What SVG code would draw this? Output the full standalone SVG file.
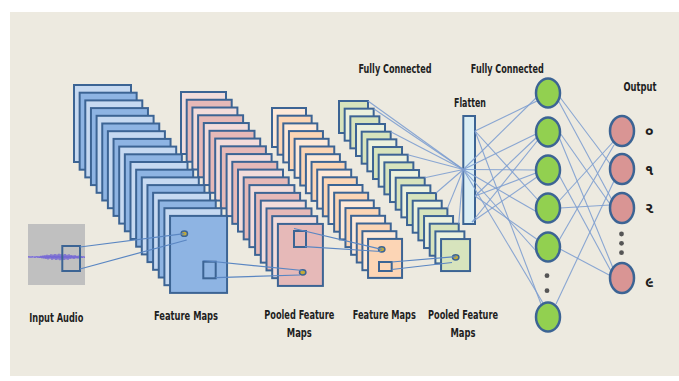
<svg xmlns="http://www.w3.org/2000/svg" width="679" height="381" viewBox="0 0 679 381">
  <defs>
    <style>
      .map { stroke: #3C6494; stroke-width: 2; }
      .b1 { fill: #C6D9F1; } .b2 { fill: #8EB4E3; }
      .p1 { fill: #F2DCDB; } .p2 { fill: #E6B9B8; }
      .o1 { fill: #FDE9D9; } .o2 { fill: #FCD5B5; }
      .g1 { fill: #EBF1DE; } .g2 { fill: #D7E4BD; }
      .win { fill: none; stroke: #3C6494; stroke-width: 2; }
      .dot { fill: #C2AA3A; stroke: #3C6494; stroke-width: 1.5; }
      .link { stroke: #5A86C2; stroke-width: 1.2; fill: none; }
      .fc { stroke: #7E9FD0; stroke-width: 1.1; fill: none; opacity: 0.9; }
      .hid { fill: #92D050; stroke: #3C6494; stroke-width: 2.5; }
      .out { fill: #D99594; stroke: #3C6494; stroke-width: 2.5; }
      .ell { fill: #555555; }
      .lbl { font-family: "DejaVu Sans Condensed", "DejaVu Sans", sans-serif; font-weight: bold; font-size: 11.5px; fill: #1E1E1E; text-anchor: middle; }
      .dig { font-family: "Noto Sans Gujarati", "Noto Sans", "DejaVu Sans", sans-serif; font-weight: bold; font-size: 15px; fill: #1E1E1E; }
    </style>
  </defs>

  <!-- backdrop -->
  <rect x="0" y="0" width="679" height="381" fill="#FFFFFF"/>
  <rect x="10" y="12" width="669" height="364" fill="#EDEAE0"/>

  <!-- second convolution stage: green pooled maps -->
  <g id="pooled-maps-2">
    <rect class="map g2" x="339" y="101" width="29" height="32"/>
    <rect class="map g1" x="344.67" y="108.67" width="29" height="32"/>
    <rect class="map g2" x="350.34" y="116.34" width="29" height="32"/>
    <rect class="map g1" x="356.01" y="124.01" width="29" height="32"/>
    <rect class="map g2" x="361.68" y="131.68" width="29" height="32"/>
    <rect class="map g1" x="367.35" y="139.35" width="29" height="32"/>
    <rect class="map g2" x="373.02" y="147.02" width="29" height="32"/>
    <rect class="map g1" x="378.69" y="154.69" width="29" height="32"/>
    <rect class="map g2" x="384.36" y="162.36" width="29" height="32"/>
    <rect class="map g1" x="390.03" y="170.03" width="29" height="32"/>
    <rect class="map g2" x="395.7" y="177.7" width="29" height="32"/>
    <rect class="map g1" x="401.37" y="185.37" width="29" height="32"/>
    <rect class="map g2" x="407.04" y="193.04" width="29" height="32"/>
    <rect class="map g1" x="412.71" y="200.71" width="29" height="32"/>
    <rect class="map g2" x="418.38" y="208.38" width="29" height="32"/>
    <rect class="map g1" x="424.05" y="216.05" width="29" height="32"/>
    <rect class="map g2" x="429.72" y="223.72" width="29" height="32"/>
    <rect class="map g1" x="435.39" y="231.39" width="29" height="32"/>
    <rect class="map g2" x="441.06" y="239.06" width="29" height="32"/>
  </g>

  <!-- second convolution stage: orange feature maps -->
  <g id="feature-maps-2">
    <rect class="map o1" x="272" y="108" width="34" height="39"/>
    <rect class="map o2" x="277.65" y="115.7" width="34" height="39"/>
    <rect class="map o1" x="283.3" y="123.4" width="34" height="39"/>
    <rect class="map o2" x="288.95" y="131.1" width="34" height="39"/>
    <rect class="map o1" x="294.6" y="138.8" width="34" height="39"/>
    <rect class="map o2" x="300.25" y="146.5" width="34" height="39"/>
    <rect class="map o1" x="305.9" y="154.2" width="34" height="39"/>
    <rect class="map o2" x="311.55" y="161.9" width="34" height="39"/>
    <rect class="map o1" x="317.2" y="169.6" width="34" height="39"/>
    <rect class="map o2" x="322.85" y="177.3" width="34" height="39"/>
    <rect class="map o1" x="328.5" y="185" width="34" height="39"/>
    <rect class="map o2" x="334.15" y="192.7" width="34" height="39"/>
    <rect class="map o1" x="339.8" y="200.4" width="34" height="39"/>
    <rect class="map o2" x="345.45" y="208.1" width="34" height="39"/>
    <rect class="map o1" x="351.1" y="215.8" width="34" height="39"/>
    <rect class="map o2" x="356.75" y="223.5" width="34" height="39"/>
    <rect class="map o1" x="362.4" y="231.2" width="34" height="39"/>
    <rect class="map o2" x="368.05" y="238.9" width="34" height="39"/>
  </g>

  <!-- first convolution stage: pink pooled maps -->
  <g id="pooled-maps-1">
    <rect class="map p1" x="181" y="92" width="45" height="62"/>
    <rect class="map p2" x="186.7" y="99.76" width="45" height="62"/>
    <rect class="map p1" x="192.4" y="107.52" width="45" height="62"/>
    <rect class="map p2" x="198.1" y="115.28" width="45" height="62"/>
    <rect class="map p1" x="203.8" y="123.04" width="45" height="62"/>
    <rect class="map p2" x="209.5" y="130.8" width="45" height="62"/>
    <rect class="map p1" x="215.2" y="138.56" width="45" height="62"/>
    <rect class="map p2" x="220.9" y="146.32" width="45" height="62"/>
    <rect class="map p1" x="226.6" y="154.08" width="45" height="62"/>
    <rect class="map p2" x="232.3" y="161.84" width="45" height="62"/>
    <rect class="map p1" x="238" y="169.6" width="45" height="62"/>
    <rect class="map p2" x="243.7" y="177.36" width="45" height="62"/>
    <rect class="map p1" x="249.4" y="185.12" width="45" height="62"/>
    <rect class="map p2" x="255.1" y="192.88" width="45" height="62"/>
    <rect class="map p1" x="260.8" y="200.64" width="45" height="62"/>
    <rect class="map p2" x="266.5" y="208.4" width="45" height="62"/>
    <rect class="map p1" x="272.2" y="216.16" width="45" height="62"/>
    <rect class="map p2" x="277.9" y="223.92" width="45" height="62"/>
    <rect class="win" x="294" y="231" width="12" height="16"/>
    <ellipse class="dot" cx="302.7" cy="272.3" rx="3.2" ry="2.6"/>
  </g>

  <!-- first convolution stage: blue feature maps -->
  <g id="feature-maps-1">
    <rect class="map b1" x="74" y="85" width="57" height="77"/>
    <rect class="map b2" x="79.65" y="92.7" width="57" height="77"/>
    <rect class="map b1" x="85.3" y="100.4" width="57" height="77"/>
    <rect class="map b2" x="90.95" y="108.1" width="57" height="77"/>
    <rect class="map b1" x="96.6" y="115.8" width="57" height="77"/>
    <rect class="map b2" x="102.25" y="123.5" width="57" height="77"/>
    <rect class="map b1" x="107.9" y="131.2" width="57" height="77"/>
    <rect class="map b2" x="113.55" y="138.9" width="57" height="77"/>
    <rect class="map b1" x="119.2" y="146.6" width="57" height="77"/>
    <rect class="map b2" x="124.85" y="154.3" width="57" height="77"/>
    <rect class="map b1" x="130.5" y="162" width="57" height="77"/>
    <rect class="map b2" x="136.15" y="169.7" width="57" height="77"/>
    <rect class="map b1" x="141.8" y="177.4" width="57" height="77"/>
    <rect class="map b2" x="147.45" y="185.1" width="57" height="77"/>
    <rect class="map b1" x="153.1" y="192.8" width="57" height="77"/>
    <rect class="map b2" x="158.75" y="200.5" width="57" height="77"/>
    <rect class="map b1" x="164.4" y="208.2" width="57" height="77"/>
    <rect class="map b2" x="170.05" y="215.9" width="57" height="77"/>
    <rect class="win" x="203.3" y="261.7" width="12.4" height="16.6"/>
    <ellipse class="dot" cx="184.3" cy="233.7" rx="3.2" ry="2.6"/>
  </g>

  <!-- small windows on the second stage -->
  <g id="feature-maps-2-window">
    <rect class="win" x="379" y="262" width="12.7" height="9"/>
    <ellipse class="dot" cx="381.7" cy="249.3" rx="3.2" ry="2.6"/>
  </g>
  <g id="pooled-maps-2-window">
    <ellipse class="dot" cx="455.7" cy="257.3" rx="3.2" ry="2.6"/>
  </g>

  <!-- input spectrum with waveform -->
  <g id="input-audio">
    <rect x="28" y="224" width="57" height="61" fill="#C0C0C0"/>
    <polyline fill="none" stroke="#8C80E6" stroke-width="2.2" opacity="0.5" points="28,257 34,257 40,257 46,257 52,257 58,257 64,257 70,257 76,257 85,257"/>
    <polyline fill="none" stroke="#6E5FD6" stroke-width="0.9" points="28,257 29,256.6 30,257.3 31,256.8 32,257.2 33,256.5 34,257.5 35,256.7 36,257.4 37,256.2 38,257.8 39,256.4 40,258 41,255.8 42,258.3 43,255.5 44,258.6 45,255.2 46,259 47,254.8 48,259.4 49,255 50,258.8 51,254.3 52,259.8 53,254.6 54,259.2 55,254 56,260 57,254.5 58,259.5 59,253.8 60,260.2 61,254.2 62,259.6 63,254.6 64,260 65,254 66,259.4 67,254.8 68,259.8 69,254.4 70,259 71,255 72,258.6 73,255.4 74,259 75,255.2 76,258.4 77,255.8 78,258.6 79,255.6 80,258.2 81,256 82,258 83,256.4 84,257.6 85,256.8"/>
    <rect class="win" x="62.3" y="246" width="17.7" height="25"/>
  </g>

  <!-- flatten vector -->
  <g id="flatten">
    <rect x="463.3" y="116" width="11.7" height="108" fill="#DBEEF4" stroke="#3C6494" stroke-width="2"/>
  </g>

  <!-- connectors -->
  <g id="connectors">
    <!-- receptive fields between stages -->
    <line class="link" x1="80" y1="247" x2="184.3" y2="233.7"/>
    <line class="link" x1="80" y1="269" x2="186.7" y2="240"/>
    <line class="link" x1="203.3" y1="260.5" x2="302.7" y2="270.5"/>
    <line class="link" x1="215.7" y1="277.7" x2="300" y2="275"/>
    <line class="link" x1="294" y1="228.5" x2="381.7" y2="249.3"/>
    <line class="link" x1="305" y1="246.7" x2="381" y2="251.5"/>
    <line class="link" x1="391.7" y1="262" x2="455.7" y2="256.7"/>
    <line class="link" x1="391.7" y1="269.5" x2="452" y2="262.5"/>

    <!-- pooled maps into the flatten vector -->
    <line class="fc" x1="368" y1="101" x2="463.3" y2="169.5"/>
    <line class="fc" x1="373.7" y1="108.7" x2="463.3" y2="169.5"/>
    <line class="fc" x1="390.7" y1="131.7" x2="463.3" y2="169.5"/>
    <line class="fc" x1="407.7" y1="154.7" x2="463.3" y2="169.5"/>
    <line class="fc" x1="424.7" y1="177.7" x2="463.3" y2="169.5"/>
    <line class="fc" x1="436" y1="193" x2="463.3" y2="169.5"/>
    <line class="fc" x1="447.4" y1="208.4" x2="463.3" y2="169.5"/>
    <line class="fc" x1="458.7" y1="223.7" x2="463.3" y2="169.5"/>

    <!-- flatten vector into the hidden layer -->
    <line class="fc" x1="475" y1="131" x2="537" y2="101"/>
    <line class="fc" x1="475" y1="131" x2="538" y2="200"/>
    <line class="fc" x1="475" y1="131" x2="541" y2="304"/>
    <line class="fc" x1="463.3" y1="169.5" x2="537" y2="97"/>
    <line class="fc" x1="463.3" y1="169.5" x2="536" y2="134"/>
    <line class="fc" x1="463.3" y1="169.5" x2="536" y2="170"/>
    <line class="fc" x1="463.3" y1="169.5" x2="537" y2="212"/>
    <line class="fc" x1="463.3" y1="169.5" x2="537" y2="252"/>
    <line class="fc" x1="463.3" y1="169.5" x2="543" y2="303"/>
    <line class="fc" x1="475" y1="196" x2="537" y2="137"/>
    <line class="fc" x1="475" y1="196" x2="536" y2="173"/>
    <line class="fc" x1="475" y1="196" x2="538" y2="240"/>
    <line class="fc" x1="472" y1="222" x2="538" y2="140"/>
    <line class="fc" x1="472" y1="222" x2="537" y2="177"/>

    <!-- hidden layer into the outputs -->
    <line class="fc" x1="559" y1="96" x2="611" y2="165"/>
    <line class="fc" x1="558" y1="100" x2="612" y2="200"/>
    <line class="fc" x1="560" y1="133" x2="610" y2="204"/>
    <line class="fc" x1="559" y1="137" x2="613" y2="268"/>
    <line class="fc" x1="559" y1="175" x2="612" y2="273"/>
    <line class="fc" x1="560" y1="208" x2="610" y2="205"/>
    <line class="fc" x1="558" y1="202" x2="614" y2="141"/>
    <line class="fc" x1="558" y1="242" x2="614" y2="145"/>
    <line class="fc" x1="560" y1="249" x2="611" y2="276"/>
    <line class="fc" x1="556" y1="304" x2="614" y2="181"/>
  </g>

  <!-- hidden fully connected layer -->
  <g id="hidden-layer">
    <ellipse class="hid" cx="548" cy="93" rx="12" ry="14.5"/>
    <ellipse class="hid" cx="548" cy="132" rx="12" ry="14.5"/>
    <ellipse class="hid" cx="548" cy="170" rx="12" ry="14.5"/>
    <ellipse class="hid" cx="548" cy="208" rx="12" ry="14.5"/>
    <ellipse class="hid" cx="548" cy="247" rx="12" ry="14.5"/>
    <ellipse class="hid" cx="548" cy="317" rx="12" ry="14.5"/>
    <circle class="ell" cx="547" cy="275.7" r="2.4"/>
    <circle class="ell" cx="547" cy="290.7" r="2.4"/>
  </g>

  <!-- output layer -->
  <g id="output-layer">
    <ellipse class="out" cx="622" cy="131" rx="12" ry="15"/>
    <ellipse class="out" cx="622" cy="169" rx="12" ry="15"/>
    <ellipse class="out" cx="622" cy="208" rx="12" ry="15"/>
    <ellipse class="out" cx="622" cy="278" rx="12" ry="15"/>
    <circle class="ell" cx="621.5" cy="234" r="2.4"/>
    <circle class="ell" cx="621.5" cy="243.3" r="2.4"/>
    <circle class="ell" cx="621.5" cy="252.7" r="2.4"/>
    <text class="dig" x="645" y="136">૦</text>
    <text class="dig" x="645" y="175">૧</text>
    <text class="dig" x="645" y="213">૨</text>
    <text class="dig" x="645" y="287">૯</text>
  </g>

  <!-- captions -->
  <g id="captions">
    <text class="lbl" x="56.3" y="322" textLength="54" lengthAdjust="spacingAndGlyphs">Input Audio</text>
    <text class="lbl" x="186" y="320" textLength="64" lengthAdjust="spacingAndGlyphs">Feature Maps</text>
    <text class="lbl" x="299.3" y="318.5" textLength="70" lengthAdjust="spacingAndGlyphs">Pooled Feature</text>
    <text class="lbl" x="299.3" y="336.7" textLength="25" lengthAdjust="spacingAndGlyphs">Maps</text>
    <text class="lbl" x="384.3" y="319.3" textLength="63" lengthAdjust="spacingAndGlyphs">Feature Maps</text>
    <text class="lbl" x="463" y="319.3" textLength="70" lengthAdjust="spacingAndGlyphs">Pooled Feature</text>
    <text class="lbl" x="463" y="337" textLength="25" lengthAdjust="spacingAndGlyphs">Maps</text>
    <text class="lbl" x="395" y="72.7" textLength="73" lengthAdjust="spacingAndGlyphs">Fully Connected</text>
    <text class="lbl" x="507.3" y="72.7" textLength="73" lengthAdjust="spacingAndGlyphs">Fully Connected</text>
    <text class="lbl" x="470" y="106.7" textLength="32" lengthAdjust="spacingAndGlyphs">Flatten</text>
    <text class="lbl" x="640" y="90.5" textLength="33" lengthAdjust="spacingAndGlyphs">Output</text>
  </g>
</svg>
